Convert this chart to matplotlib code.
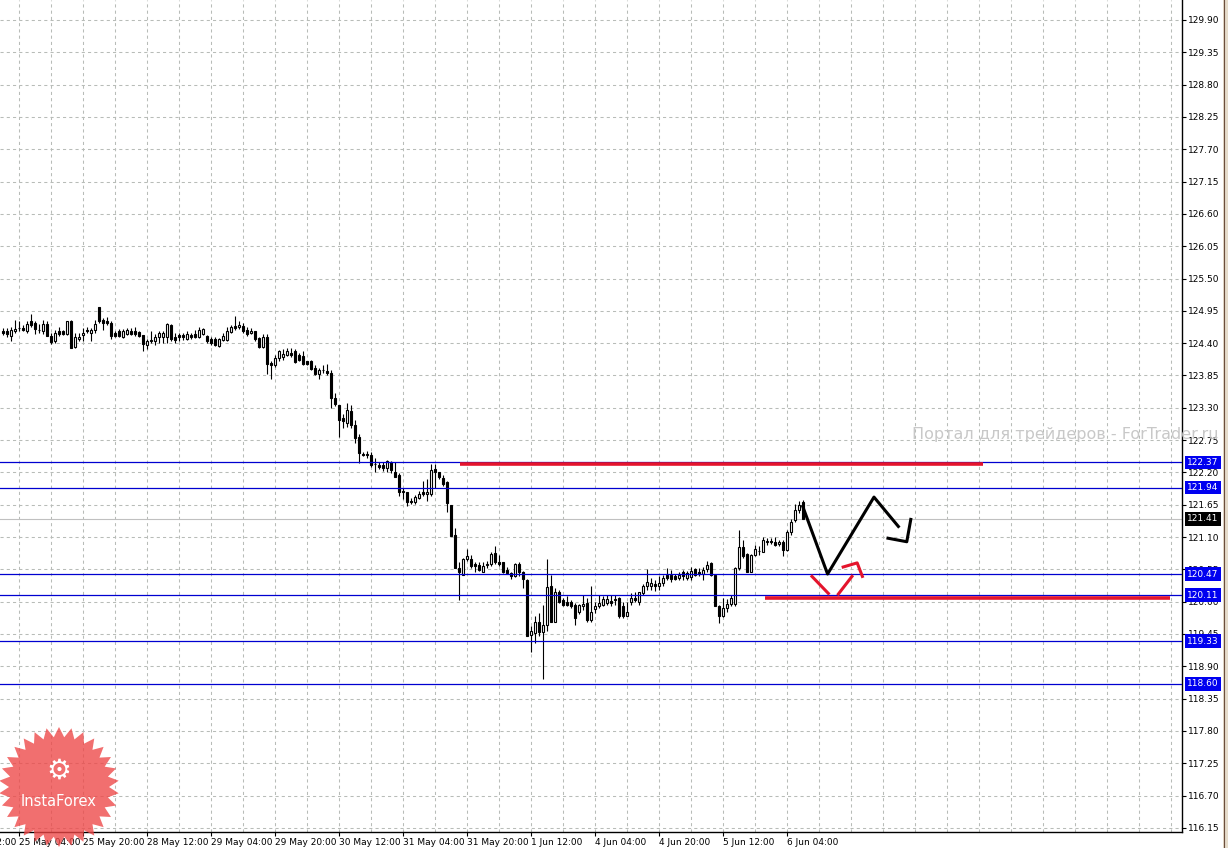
import numpy as np
import matplotlib
matplotlib.use("Agg")
import matplotlib.pyplot as plt
from matplotlib.patches import Polygon, Rectangle

# hourly candles, 25 May 00:00 .. 6 Jun 08:00
opens = [
    124.61, 124.60, 124.53, 124.61, 124.65, 124.66, 124.61, 124.78, 124.75, 124.63,
    124.61, 124.73, 124.53, 124.43, 124.61, 124.60, 124.55, 124.78, 124.34, 124.47,
    124.54, 124.63, 124.57, 124.63, 125.01, 124.80, 124.78, 124.75, 124.58, 124.61,
    124.50, 124.56, 124.61, 124.60, 124.59, 124.54, 124.37, 124.44, 124.44, 124.50,
    124.51, 124.50, 124.71, 124.51, 124.54, 124.54, 124.47, 124.54, 124.56, 124.50,
    124.55, 124.52, 124.47, 124.47, 124.35, 124.45, 124.45, 124.59, 124.69, 124.68,
    124.69, 124.62, 124.58, 124.60, 124.48, 124.33, 124.51, 124.06, 124.02, 124.14,
    124.16, 124.20, 124.24, 124.26, 124.19, 124.18, 124.09, 124.10, 123.98, 123.88,
    123.94, 123.93, 123.90, 123.47, 123.35, 123.12, 123.04, 123.25, 123.00, 122.80,
    122.52, 122.51, 122.50, 122.35, 122.32, 122.33, 122.27, 122.37, 122.21, 122.15,
    121.87, 121.86, 121.72, 121.69, 121.76, 121.86, 121.83, 121.83, 122.25, 122.21,
    122.10, 122.03, 121.65, 121.14, 120.58, 120.46, 120.72, 120.73, 120.64, 120.63,
    120.51, 120.63, 120.64, 120.82, 120.68, 120.67, 120.54, 120.48, 120.43, 120.64,
    120.51, 120.37, 119.43, 119.46, 119.66, 119.49, 119.61, 120.27, 119.66, 120.17,
    120.03, 120.00, 119.99, 119.95, 119.82, 119.92, 119.97, 119.69, 119.87, 119.92,
    119.95, 119.97, 120.01, 120.05, 120.06, 119.92, 119.75, 119.99, 120.06, 119.99,
    120.14, 120.27, 120.27, 120.30, 120.26, 120.31, 120.46, 120.46, 120.43, 120.40,
    120.50, 120.40, 120.42, 120.55, 120.51, 120.47, 120.55, 120.65, 120.46, 119.92,
    119.76, 119.89, 119.96, 119.96, 120.57, 120.93, 120.81, 120.51, 120.80, 120.86,
    120.85, 121.02, 121.03, 121.02, 120.98, 121.01, 120.88, 121.19, 121.39, 121.56,
    121.70,
]
highs = [
    124.65, 124.65, 124.68, 124.80, 124.77, 124.71, 124.78, 124.90, 124.77, 124.73,
    124.80, 124.77, 124.58, 124.63, 124.68, 124.63, 124.78, 124.80, 124.57, 124.57,
    124.65, 124.67, 124.65, 124.80, 125.02, 124.83, 124.85, 124.77, 124.61, 124.64,
    124.64, 124.65, 124.65, 124.67, 124.61, 124.54, 124.47, 124.60, 124.55, 124.60,
    124.61, 124.74, 124.73, 124.57, 124.57, 124.57, 124.60, 124.57, 124.63, 124.67,
    124.65, 124.54, 124.50, 124.50, 124.49, 124.57, 124.68, 124.71, 124.86, 124.78,
    124.74, 124.68, 124.65, 124.61, 124.50, 124.56, 124.55, 124.09, 124.20, 124.28,
    124.30, 124.31, 124.31, 124.30, 124.23, 124.27, 124.10, 124.11, 124.03, 123.97,
    124.03, 124.04, 123.94, 123.55, 123.35, 123.20, 123.38, 123.35, 123.10, 122.85,
    122.55, 122.56, 122.54, 122.44, 122.38, 122.37, 122.41, 122.40, 122.37, 122.19,
    121.93, 121.87, 121.76, 121.82, 121.89, 122.06, 122.08, 122.34, 122.34, 122.21,
    122.16, 122.06, 121.65, 121.25, 120.68, 120.74, 120.90, 120.80, 120.67, 120.67,
    120.67, 120.70, 120.84, 120.94, 120.80, 120.67, 120.59, 120.51, 120.65, 120.68,
    120.52, 120.38, 119.58, 119.75, 119.80, 119.94, 120.73, 120.46, 120.23, 120.20,
    120.06, 120.09, 120.03, 119.97, 119.96, 120.12, 120.06, 120.26, 120.00, 120.12,
    120.09, 120.12, 120.12, 120.12, 120.08, 120.00, 120.00, 120.14, 120.17, 120.17,
    120.30, 120.55, 120.40, 120.37, 120.43, 120.46, 120.57, 120.54, 120.47, 120.50,
    120.54, 120.53, 120.59, 120.57, 120.57, 120.59, 120.70, 120.68, 120.46, 119.95,
    120.06, 120.04, 120.12, 120.59, 121.22, 121.05, 120.82, 120.81, 120.97, 120.94,
    121.10, 121.08, 121.08, 121.10, 121.05, 121.05, 121.22, 121.40, 121.66, 121.72,
    121.73,
]
lows = [
    124.54, 124.50, 124.43, 124.57, 124.60, 124.60, 124.58, 124.68, 124.55, 124.58,
    124.55, 124.52, 124.38, 124.40, 124.52, 124.54, 124.54, 124.31, 124.31, 124.44,
    124.44, 124.57, 124.44, 124.57, 124.74, 124.63, 124.71, 124.47, 124.51, 124.50,
    124.48, 124.54, 124.54, 124.52, 124.51, 124.27, 124.30, 124.41, 124.36, 124.41,
    124.41, 124.41, 124.44, 124.41, 124.44, 124.45, 124.45, 124.47, 124.49, 124.48,
    124.54, 124.41, 124.37, 124.35, 124.34, 124.44, 124.44, 124.57, 124.62, 124.64,
    124.58, 124.52, 124.55, 124.44, 124.31, 124.31, 123.88, 123.79, 124.00, 124.09,
    124.11, 124.18, 124.17, 124.06, 124.10, 124.02, 124.02, 123.94, 123.86, 123.79,
    123.89, 123.86, 123.30, 123.33, 122.80, 122.95, 122.97, 122.95, 122.70, 122.36,
    122.48, 122.45, 122.30, 122.21, 122.25, 122.22, 122.21, 122.19, 122.12, 121.80,
    121.74, 121.62, 121.66, 121.66, 121.74, 121.80, 121.71, 121.79, 121.94, 122.08,
    121.97, 121.53, 121.11, 120.57, 120.03, 120.46, 120.70, 120.57, 120.51, 120.53,
    120.50, 120.57, 120.60, 120.64, 120.60, 120.48, 120.47, 120.38, 120.42, 120.43,
    120.23, 119.41, 119.14, 119.29, 119.41, 118.68, 119.50, 119.65, 119.65, 119.97,
    119.92, 119.92, 119.90, 119.61, 119.79, 119.85, 119.66, 119.65, 119.80, 119.89,
    119.92, 119.94, 119.92, 119.95, 119.72, 119.72, 119.75, 119.95, 120.00, 119.95,
    120.12, 120.20, 120.20, 120.19, 120.20, 120.27, 120.37, 120.34, 120.37, 120.37,
    120.37, 120.37, 120.37, 120.43, 120.43, 120.37, 120.51, 120.43, 119.92, 119.63,
    119.74, 119.83, 119.93, 119.93, 120.54, 120.74, 120.50, 120.50, 120.77, 120.80,
    120.84, 120.97, 120.98, 120.94, 120.95, 120.78, 120.87, 121.14, 121.36, 121.51,
    121.40,
]
closes = [
    124.57, 124.55, 124.63, 124.64, 124.66, 124.62, 124.73, 124.71, 124.64, 124.62,
    124.72, 124.53, 124.42, 124.57, 124.55, 124.55, 124.77, 124.32, 124.50, 124.50,
    124.57, 124.60, 124.62, 124.73, 124.78, 124.74, 124.74, 124.52, 124.53, 124.53,
    124.60, 124.63, 124.55, 124.55, 124.53, 124.38, 124.44, 124.45, 124.50, 124.57,
    124.58, 124.72, 124.47, 124.45, 124.50, 124.50, 124.56, 124.51, 124.51, 124.63,
    124.64, 124.43, 124.40, 124.36, 124.47, 124.52, 124.60, 124.68, 124.65, 124.71,
    124.61, 124.55, 124.61, 124.47, 124.34, 124.51, 124.04, 124.02, 124.14, 124.26,
    124.21, 124.26, 124.20, 124.08, 124.11, 124.04, 124.04, 123.96, 123.88, 123.94,
    123.95, 123.89, 123.47, 123.36, 123.10, 123.08, 123.26, 123.00, 122.78, 122.53,
    122.50, 122.49, 122.33, 122.34, 122.30, 122.27, 122.40, 122.24, 122.13, 121.86,
    121.88, 121.70, 121.69, 121.78, 121.83, 121.83, 121.87, 122.24, 122.21, 122.13,
    122.00, 121.68, 121.11, 120.57, 120.51, 120.73, 120.77, 120.60, 120.60, 120.54,
    120.61, 120.64, 120.81, 120.68, 120.64, 120.51, 120.48, 120.44, 120.64, 120.50,
    120.38, 119.42, 119.50, 119.66, 119.49, 119.61, 120.25, 119.66, 120.17, 120.00,
    119.94, 119.94, 119.92, 119.72, 119.95, 119.96, 119.69, 119.83, 119.92, 119.97,
    120.04, 120.05, 119.97, 120.02, 119.75, 119.75, 119.83, 120.06, 120.03, 120.16,
    120.27, 120.34, 120.31, 120.26, 120.31, 120.40, 120.40, 120.38, 120.38, 120.46,
    120.43, 120.48, 120.53, 120.46, 120.47, 120.54, 120.63, 120.46, 119.92, 119.76,
    119.89, 119.96, 120.06, 120.57, 120.93, 120.78, 120.51, 120.80, 120.89, 120.87,
    121.05, 121.03, 121.02, 120.96, 121.01, 120.88, 121.19, 121.36, 121.56, 121.65,
    121.41,
]

time_labels = ["24 May 12:00", "25 May 04:00", "25 May 20:00", "28 May 12:00",
               "29 May 04:00", "29 May 20:00", "30 May 12:00", "31 May 04:00",
               "31 May 20:00", "1 Jun 12:00", "4 Jun 04:00", "4 Jun 20:00",
               "5 Jun 12:00", "6 Jun 04:00"]
label_bars = [-12, 4, 20, 36, 52, 68, 84, 100, 116, 132, 148, 164, 180, 196]

levels = [122.37, 121.94, 120.47, 120.11, 119.33, 118.60]
last_price = 121.41

# red horizontal zones (start bar, end bar, price)
red_zones = [(114.3, 245.1, 122.35), (190.6, 291.8, 120.07)]

# hand-drawn forecast
path_black_1 = ([200.0, 206.2, 217.8, 223.9], [121.62, 120.47, 121.78, 121.28])
path_black_2 = ([221.3, 226.0, 227.0], [121.08, 121.02, 121.40])
paths_red = [([202.3, 206.4], [120.43, 120.14]),
             ([208.9, 212.3], [120.13, 120.43]),
             ([210.1, 213.6, 214.9], [120.59, 120.66, 120.43])]

W, H = 1228, 848
fig = plt.figure(figsize=(W / 100, H / 100), dpi=100)
fig.patch.set_facecolor("white")
ax = fig.add_axes([0, 16 / H, 1182 / W, 1 - 16 / H])
ax.set_facecolor("white")

# grid
grid_kw = dict(color="#b8bcb8", linestyle=(0, (3, 3)), linewidth=0.75, zorder=0)
yticks = [round(116.15 + 0.55 * k, 2) for k in range(26)]
for yv in yticks:
    ax.axhline(yv, **grid_kw)
for xv in np.arange(-4, 296, 8):
    ax.axvline(xv, **grid_kw)

# candles
x = np.arange(len(opens))
o = np.array(opens)
h = np.array(highs)
l = np.array(lows)
c = np.array(closes)
ax.vlines(x, l, h, color="black", linewidth=0.8, zorder=2)
up = c >= o
body_lo = np.minimum(o, c)
body_h = np.maximum(np.abs(c - o), 0.004)
ax.bar(x[up], body_h[up], bottom=body_lo[up], width=0.55, facecolor="white",
       edgecolor="black", linewidth=0.8, zorder=3)
ax.bar(x[~up], body_h[~up], bottom=body_lo[~up], width=0.55, facecolor="black",
       edgecolor="black", linewidth=0.8, zorder=3)

# levels
ax.axhline(last_price, color="#c0c0c0", linewidth=0.8, zorder=1)
for lv in levels:
    ax.axhline(lv, color="#0000d0", linewidth=0.9, zorder=4)
for x0, x1, yv in red_zones:
    ax.plot([x0, x1], [yv, yv], color="#e4142c", linewidth=2.6, zorder=5,
            solid_capstyle="butt")

ax.plot(*path_black_1, color="black", linewidth=2.2, zorder=6)
ax.plot(*path_black_2, color="black", linewidth=2.2, zorder=6)
for px, py in paths_red:
    ax.plot(px, py, color="#e4142c", linewidth=2.2, zorder=6)

# axes look
for s in ["left", "top"]:
    ax.spines[s].set_visible(False)
for s in ["right", "bottom"]:
    ax.spines[s].set_color("black")
    ax.spines[s].set_linewidth(1.0)
ax.yaxis.tick_right()
ax.set_yticks(yticks, [f"{v:.2f}" for v in yticks])
ax.set_xticks(label_bars[1:], time_labels[1:])
ax.tick_params(axis="both", direction="out", length=3, width=0.8, colors="black",
               labelsize=6.5, pad=1.5)
for t in ax.get_xticklabels():
    t.set_ha("left")
# limits after ticks, set_ticks widens the view otherwise
ax.set_xlim(-0.675, 294.8)
ax.set_ylim(116.08, 130.24)

# first label sits left of the view and is cut by the edge
ax.annotate(time_labels[0], xy=(label_bars[0], 0), xycoords=("data", "axes fraction"),
            xytext=(0, -4.5), textcoords="offset points", ha="left", va="top",
            fontsize=6.5, color="black", annotation_clip=False)

# price boxes on the scale
ytr = ax.get_yaxis_transform()
for lv in levels:
    ax.text(1 + 5 / 1182, lv, f"{lv:.2f}", transform=ytr, ha="left", va="center",
            fontsize=6.5, color="white", zorder=10, clip_on=False,
            bbox=dict(facecolor="#0000f0", edgecolor="none", pad=1.6))
ax.text(1 + 5 / 1182, last_price, f"{last_price:.2f}", transform=ytr, ha="left",
        va="center", fontsize=6.5, color="white", zorder=10, clip_on=False,
        bbox=dict(facecolor="black", edgecolor="none", pad=1.6))

# watermark
fig.text(912 / W, 1 - 435 / H, "Портал для трейдеров - ForTrader.ru", ha="left",
         va="center", fontsize=11.5, color="#c8c8c8", zorder=1)

# right scroll strip
fig.add_artist(Rectangle((1223 / W, 0), 5 / W, 1, transform=fig.transFigure,
                         facecolor="#e6dccb", edgecolor="none"))
fig.add_artist(plt.Line2D([1223.5 / W] * 2, [0, 1], transform=fig.transFigure,
                          color="#6b4f3e", linewidth=0.8))

# logo
cx, cy, r_out, r_in, n = 59, 787, 60, 50, 30
ang = np.linspace(0, 2 * np.pi, 2 * n, endpoint=False) + np.pi / 2
rad = np.where(np.arange(2 * n) % 2 == 0, r_out, r_in)
pts = np.column_stack([(cx + rad * np.cos(ang)) / W, 1 - (cy - rad * np.sin(ang)) / H])
fig.add_artist(Polygon(pts, closed=True, transform=fig.transFigure,
                       facecolor="#ee4646", edgecolor="none", alpha=0.78, zorder=20))
fig.text(cx / W, 1 - 771 / H, "\u2699", ha="center", va="center", fontsize=20,
         color="white", zorder=21)
fig.text(cx / W, 1 - 801 / H, "InstaForex", ha="center", va="center", fontsize=10.5,
         color="white", zorder=21)

fig.savefig("out.png", dpi=100, facecolor="white")
